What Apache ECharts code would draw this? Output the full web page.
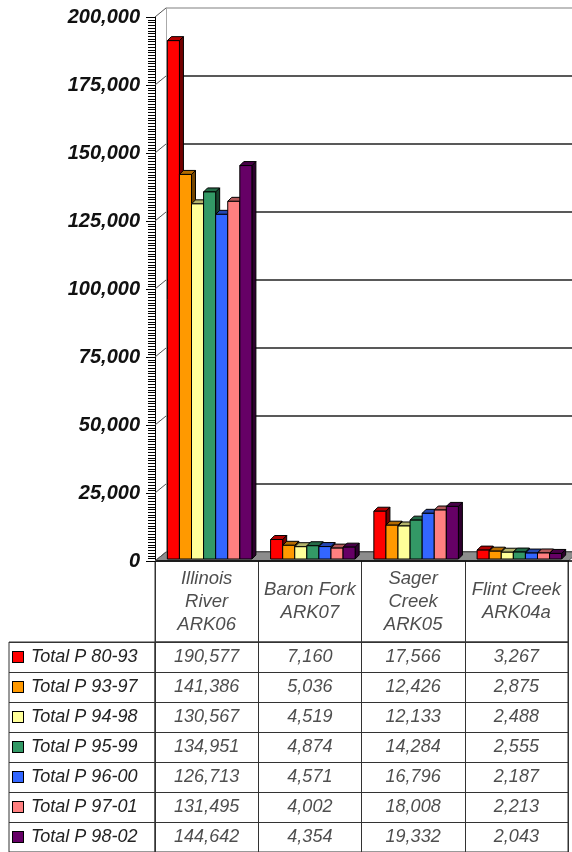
<!DOCTYPE html>
<html><head><meta charset="utf-8">
<script src="https://cdn.jsdelivr.net/npm/echarts@6/dist/echarts.min.js"></script>
<style>html,body{margin:0;padding:0;background:#fff}#c{width:572px;height:852px}</style>
</head><body><div id="c"></div>
<script>
// ---- data ----
const categories = ['Illinois\nRiver\nARK06', 'Baron Fork\nARK07', 'Sager\nCreek\nARK05', 'Flint Creek\nARK04a'];
const seriesNames = ['Total P 80-93', 'Total P 93-97', 'Total P 94-98', 'Total P 95-99', 'Total P 96-00', 'Total P 97-01', 'Total P 98-02'];
const p8093 = [190577, 7160, 17566, 3267];
const p9397 = [141386, 5036, 12426, 2875];
const p9498 = [130567, 4519, 12133, 2488];
const p9599 = [134951, 4874, 14284, 2555];
const p9600 = [126713, 4571, 16796, 2187];
const p9701 = [131495, 4002, 18008, 2213];
const p9802 = [144642, 4354, 19332, 2043];
const yTicks = [0, 25000, 50000, 75000, 100000, 125000, 150000, 175000, 200000];
const minorStep = 1000;

const seriesValues = [p8093, p9397, p9498, p9599, p9600, p9701, p9802];
const colors = ['#FF0000', '#FF9900', '#FFFF99', '#339966', '#3366FF', '#FF8080', '#660066'];

function shade(hex, f) {
  const n = parseInt(hex.slice(1), 16);
  const r = Math.round(((n >> 16) & 255) * f), g = Math.round(((n >> 8) & 255) * f), b = Math.round((n & 255) * f);
  return 'rgb(' + r + ',' + g + ',' + b + ')';
}
const fmt = v => Number(v).toLocaleString('en-US');
const TXT = '#222';
const FONT = 'Liberation Sans, Arial, sans-serif';
const CLEAR = 'rgba(0,0,0,0)';

const DX = 11, DY = -9; // 3D wall offset

function barRender(si) {
  return function (params, api) {
    const ci = api.value(0), v = api.value(1);
    const base = api.coord([ci, 0]);
    const top = api.coord([ci, v]);
    const band = api.size([1, 0])[0];
    const bw = band * 0.117;
    const x0 = base[0] - 3.5 * bw + si * bw + 3;
    const yb = base[1] - 2, yt = top[1] - 2;
    const dx = 4, dy = -4;
    const c = colors[si];
    return {
      type: 'group', children: [
        { type: 'polygon', shape: { points: [[x0 + bw, yt], [x0 + bw + dx, yt + dy], [x0 + bw + dx, yb + dy], [x0 + bw, yb]] }, style: { fill: shade(c, 0.45), stroke: '#000', lineWidth: 1 } },
        { type: 'polygon', shape: { points: [[x0, yt], [x0 + dx, yt + dy], [x0 + bw + dx, yt + dy], [x0 + bw, yt]] }, style: { fill: shade(c, 0.7), stroke: '#000', lineWidth: 1 } },
        { type: 'rect', shape: { x: x0, y: yt, width: bw, height: yb - yt }, style: { fill: c, stroke: '#000', lineWidth: 1 } }
      ]
    };
  };
}

const rich = { t: { fontSize: 18, fontStyle: 'italic', color: TXT, fontFamily: FONT, padding: [0, 0, 0, 8] } };
colors.forEach((c, i) => { rich['b' + i] = { width: 10, height: 10, backgroundColor: c, borderColor: '#000', borderWidth: 1 }; });

const gridLineColors = yTicks.map((t, i) => i === yTicks.length - 1 ? '#aaa' : '#222');

const tableData = [];
seriesValues.forEach((arr, si) => arr.forEach((v, ci) => tableData.push([ci, si, v])));

const option = {
  animation: false,
  backgroundColor: '#fff',
  grid: [
    { left: 155, top: 17, width: 413, height: 544 },                // 0 front
    { left: 166, top: 8, right: 0, height: 544 },                   // 1 back wall
    { left: 155, top: 561, width: 413, height: 81, show: true, borderColor: '#333', borderWidth: 1 }, // 2 header
    { left: 155, top: 642, width: 413, height: 214, show: true, borderColor: '#333', borderWidth: 1 }, // 3 values
    { left: 9, top: 642, width: 146, height: 214, show: true, borderColor: '#333', borderWidth: 1 },   // 4 legend column
    { left: 148, top: 17, width: 7, height: 544 }                   // 5 ruler strip
  ],
  xAxis: [
    { gridIndex: 0, type: 'category', data: categories, axisLine: { show: false }, axisTick: { show: false }, axisLabel: { show: false } },
    { gridIndex: 1, type: 'category', data: categories, show: false },
    { gridIndex: 2, type: 'category', data: categories, axisLine: { show: false }, axisTick: { show: false }, axisLabel: { show: false },
      splitLine: { show: true, interval: 0, lineStyle: { color: '#333', width: 1 } } },
    { gridIndex: 3, type: 'category', data: categories, axisLine: { show: false }, axisTick: { show: false }, axisLabel: { show: false },
      splitLine: { show: true, interval: 0, lineStyle: { color: '#333', width: 1 } } },
    { gridIndex: 4, type: 'category', data: [''], show: false },
    { gridIndex: 5, type: 'value', min: 0, max: 1, show: false }
  ],
  yAxis: [
    { gridIndex: 0, type: 'value', min: 0, max: 200000, interval: 25000,
      axisLine: { show: true, lineStyle: { color: '#000', width: 1 } },
      axisTick: { show: true, length: 9, lineStyle: { color: '#000', width: 1 } },
      splitLine: { show: false },
      axisLabel: { margin: 15, fontSize: 20, fontWeight: 'bold', fontStyle: 'italic', color: '#111', fontFamily: FONT, formatter: v => fmt(v) } },
    { gridIndex: 1, type: 'value', min: 0, max: 200000, interval: 25000,
      axisLine: { show: true, lineStyle: { color: '#aaa', width: 1 } },
      axisTick: { show: false }, axisLabel: { show: false },
      splitLine: { show: true, lineStyle: { color: gridLineColors, width: 1.5 } } },
    { gridIndex: 2, type: 'value', min: 0, max: 1, show: false },
    { gridIndex: 3, type: 'category', data: seriesNames, inverse: true, axisLine: { show: false }, axisTick: { show: false }, axisLabel: { show: false },
      splitLine: { show: true, interval: 0, lineStyle: { color: '#333', width: 1 } } },
    { gridIndex: 4, type: 'category', data: seriesNames, inverse: true, axisLine: { show: false }, axisTick: { show: false },
      splitLine: { show: true, interval: 0, lineStyle: { color: '#333', width: 1 } },
      axisLabel: { inside: true, margin: 4, interval: 0, formatter: (v, i) => '{b' + i + '|}{t|' + v + '}', rich: rich } },
    // ruler strip scale (same range as the front axis)
    { gridIndex: 5, type: 'value', min: 0, max: 200000, interval: 25000, show: false }
  ],
  series: [
    // floor
    { type: 'custom', xAxisIndex: 0, yAxisIndex: 0, z: 1, silent: true, data: [[0, 0]],
      renderItem: (params, api) => {
        const cs = params.coordSys; const y0 = api.coord([0, 0])[1];
        return { type: 'group', children: [
          { type: 'polygon', shape: { points: [[cs.x, y0], [cs.x + cs.width, y0], [cs.x + cs.width + DX, y0 + DY], [cs.x + DX, y0 + DY]] }, style: { fill: '#8c8c8c', stroke: '#555', lineWidth: 1 } },
          { type: 'line', shape: { x1: cs.x, y1: y0, x2: cs.x + cs.width + 4, y2: y0 }, style: { stroke: '#000', lineWidth: 1.5 } }
        ] };
      } },
    // tick connectors to back wall
    { type: 'custom', xAxisIndex: 0, yAxisIndex: 0, z: 1, silent: true, data: yTicks.map(t => [0, t]),
      renderItem: (params, api) => {
        const cs = params.coordSys; const y = api.coord([0, api.value(1)])[1];
        return { type: 'line', shape: { x1: cs.x, y1: y, x2: cs.x + DX, y2: y + DY }, style: { stroke: '#555', lineWidth: 1 } };
      } },
    // ruler minor ticks, drawn inside the narrow strip grid from its value scale
    { type: 'custom', xAxisIndex: 5, yAxisIndex: 5, z: 5, silent: true, clip: false, data: [[0.5, 0]],
      renderItem: (params, api) => {
        const cs = params.coordSys; const kids = [];
        for (let v = 0; v <= yTicks[yTicks.length - 1]; v += minorStep) {
          const y = Math.round(api.coord([0, v])[1]) + 0.5;
          kids.push({ type: 'line', shape: { x1: cs.x, y1: y, x2: cs.x + cs.width, y2: y }, style: { stroke: '#000', lineWidth: 1 } });
        }
        return { type: 'group', children: kids };
      } }
  ].concat(seriesValues.map((arr, si) => ({
    type: 'custom', name: seriesNames[si], xAxisIndex: 0, yAxisIndex: 0, z: 3,
    data: arr.map((v, ci) => [ci, v]), encode: { x: 0, y: 1 }, renderItem: barRender(si)
  }))).concat([
    // header labels
    { type: 'scatter', xAxisIndex: 2, yAxisIndex: 2, symbolSize: 1, itemStyle: { color: CLEAR }, silent: true,
      data: categories.map((c, i) => [i, 0.5]),
      label: { show: true, position: 'inside', formatter: p => categories[p.data[0]], fontSize: 18.5, lineHeight: 23, fontStyle: 'italic', color: TXT, fontFamily: FONT, align: 'center' } },
    // table values
    { type: 'scatter', xAxisIndex: 3, yAxisIndex: 3, symbolSize: 1, itemStyle: { color: CLEAR }, silent: true,
      data: tableData,
      label: { show: true, position: 'inside', formatter: p => fmt(p.data[2]), fontSize: 18, fontStyle: 'italic', color: TXT, fontFamily: FONT } }
  ])
};

const chart = echarts.init(document.getElementById('c'), null, { renderer: 'canvas' });
chart.setOption(option);
</script>
</body></html>
